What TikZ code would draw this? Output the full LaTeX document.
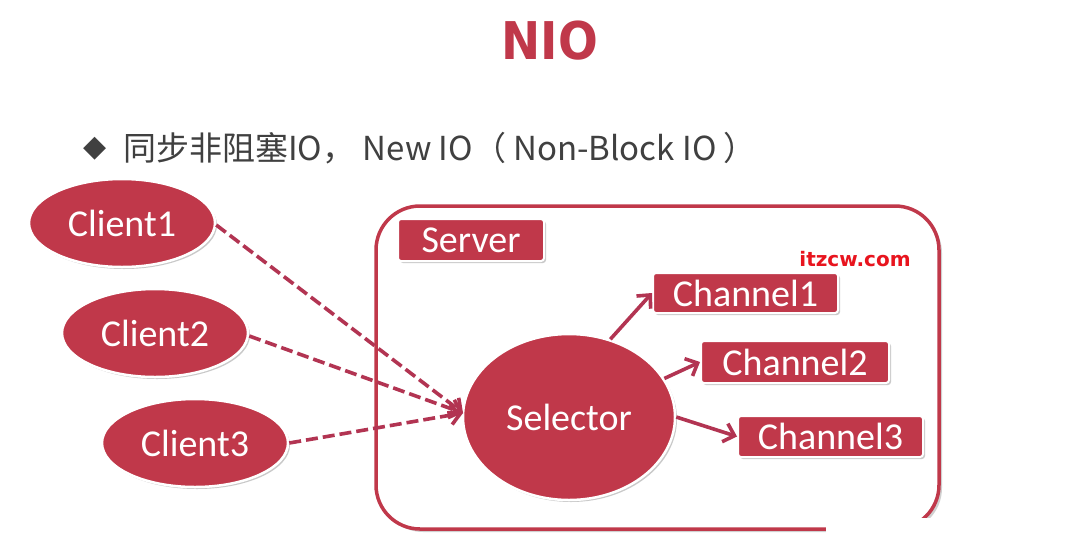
\documentclass[tikz,border=0pt]{standalone}
\usepackage{fontspec}
\setmainfont{Carlito}
\newfontfamily\cjk{Noto Sans CJK SC}
\newfontfamily\titlefont{DejaVu Sans}
\usetikzlibrary{shapes.geometric,arrows.meta,shadows}
\definecolor{nred}{HTML}{C0384A}
\definecolor{nline}{HTML}{B23452}
\definecolor{ntext}{HTML}{404040}
\definecolor{wred}{HTML}{E8141E}
\tikzset{
  x=1pt,y=-1pt,
  soft/.style={drop shadow={shadow xshift=2pt,shadow yshift=-2pt,opacity=0.35,fill=black!60}},
  client/.style={ellipse,fill=nred,draw=white,line width=2.5pt,soft,
    minimum width=186pt,minimum height=88pt,text=white,font=\fontsize{38}{40}\selectfont},
  sel/.style={ellipse,fill=nred,draw=white,line width=2.5pt,soft,
    minimum width=212pt,minimum height=166pt,text=white,font=\fontsize{38}{40}\selectfont},
  tag/.style={rectangle,rounded corners=3pt,fill=nred,draw=white,line width=2pt,soft,
    text=white,font=\fontsize{38}{40}\selectfont,anchor=north west,inner sep=0pt},
  dashedarrow/.style={draw=nline,line width=3.6pt,dash pattern=on 12pt off 5pt,
    -{Straight Barb[length=10pt,width=19pt,line width=3.6pt]}},
  solidarrow/.style={draw=nline,line width=3.6pt,
    -{Straight Barb[length=10pt,width=19pt,line width=3.6pt]}},
}
\begin{document}
\begin{tikzpicture}
\useasboundingbox[fill=white] (0,0) rectangle (1089,539);

% heading and bullet line
\node[font=\titlefont\bfseries\fontsize{52}{54}\selectfont,text=nred,xscale=0.9] (title) at (550,41) {NIO};
\node[font=\titlefont\fontsize{30}{32}\selectfont,text=ntext] (diamond) at (95,149) {◆};
\node[font=\cjk\fontsize{33}{36}\selectfont,text=ntext,anchor=west,inner sep=0pt] (bullet) at (123,148)
  {同步非阻塞IO， New IO（ Non-Block IO ）};

% server frame
\draw[nred,line width=3.5pt,rounded corners=44pt,
  drop shadow={shadow xshift=3pt,shadow yshift=-3pt,opacity=0.3,fill=black!60},fill=white]
  (376,206) rectangle (939,529);
\node[tag,minimum width=146pt,minimum height=42pt] (server) at (397,218) {Server};

% clients
\node[client] (c1) at (122,223) {Client1};
\node[client] (c2) at (155,333) {Client2};
\node[client] (c3) at (195,443) {Client3};

% selector and channels
\node[sel] (selector) at (569,417) {Selector};
\node[tag,minimum width=185pt,minimum height=40pt] (ch1) at (652,272) {Channel1};
\node[tag,minimum width=188pt,minimum height=42pt] (ch2) at (700,340) {Channel2};
\node[tag,minimum width=185pt,minimum height=41pt] (ch3) at (737,415) {Channel3};

\node[font=\titlefont\bfseries\fontsize{20}{22}\selectfont,text=wred] (site) at (855,259) {itzcw.com};

% connectors
\coordinate (in) at (463,413);
\draw[dashedarrow] (c1.east) ++(0,2) -- (in);
\draw[dashedarrow] (c2.east) ++(0,3) -- (in);
\draw[dashedarrow] (c3.east) -- (in);
\draw[solidarrow] (selector.62) -- (ch1.west);
\draw[solidarrow] (selector.22) -- (ch2.west);
\draw[solidarrow] (selector.east) -- (ch3.west);

% lower right overlay
\fill[white] (826,518) rectangle (1089,539);
\end{tikzpicture}
\end{document}
